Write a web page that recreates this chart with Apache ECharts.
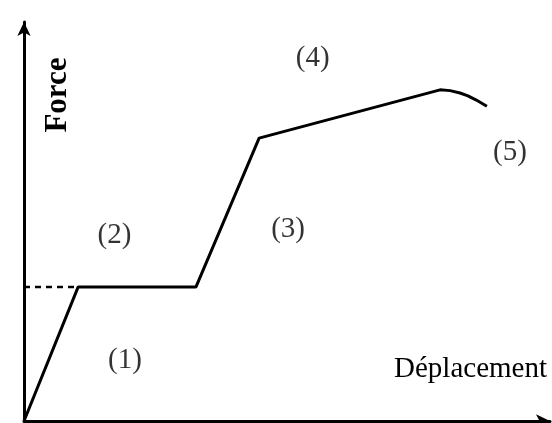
<!DOCTYPE html>
<html>
<head>
<meta charset="utf-8">
<script src="https://cdn.jsdelivr.net/npm/echarts@6/dist/echarts.min.js"></script>
<style>
  html, body { margin: 0; padding: 0; background: #fff; }
  #chart { width: 552px; height: 423px; }
</style>
</head>
<body>
<div id="chart"></div>
<script>
// force-displacement curve, normalised 0..100 on both axes
const curveX = [0, 10.3, 32.7, 44.7, 79.1, 81.0, 82.9, 84.4, 85.9, 88.0]
const curveY = [0, 33.6, 33.6, 70.9, 83.0, 82.8, 82.2, 81.5, 80.5, 78.9]
const dashX = [0, 10.3]
const dashY = [33.6, 33.6]

const zoneNames = ['(1)', '(2)', '(3)', '(4)', '(5)']
const zoneX = [19.2, 17.2, 50.2, 54.9, 92.4]
const zoneY = [15.3, 46.4, 48.1, 91.0, 67.2]

const font = '"Liberation Serif", "DejaVu Serif", serif'

const chart = echarts.init(document.getElementById('chart'))

chart.setOption({
  animation: false,
  grid: { left: 24, right: 2, top: 22, bottom: 2 },
  xAxis: {
    type: 'value',
    min: 0,
    max: 100,
    axisLine: {
      lineStyle: { color: '#000', width: 3 },
      symbol: ['none', 'arrow'],
      symbolSize: [10, 14],
    },
    axisTick: { show: false },
    axisLabel: { show: false },
    splitLine: { show: false },
  },
  yAxis: {
    type: 'value',
    min: 0,
    max: 100,
    axisLine: {
      lineStyle: { color: '#000', width: 3 },
      symbol: ['none', 'arrow'],
      symbolSize: [10, 14],
    },
    axisTick: { show: false },
    axisLabel: { show: false },
    splitLine: { show: false },
  },
  graphic: [
    {
      type: 'text',
      x: 58,
      y: 95,
      rotation: Math.PI / 2,
      style: {
        text: 'Force',
        font: 'bold 31px ' + font,
        fill: '#000',
        align: 'center',
        verticalAlign: 'middle',
      },
    },
    {
      type: 'text',
      x: 547,
      y: 369,
      style: {
        text: 'Déplacement',
        font: '29px ' + font,
        fill: '#000',
        align: 'right',
        verticalAlign: 'middle',
      },
    },
  ],
  series: [
    {
      type: 'line',
      data: curveX.map((x, i) => [x, curveY[i]]),
      showSymbol: false,
      lineStyle: { color: '#000', width: 3 },
    },
    {
      type: 'line',
      data: dashX.map((x, i) => [x, dashY[i]]),
      showSymbol: false,
      lineStyle: { color: '#000', width: 2.5, type: [6, 5] },
    },
    {
      type: 'scatter',
      symbolSize: 0,
      data: zoneNames.map((n, i) => ({ name: n, value: [zoneX[i], zoneY[i]] })),
      label: {
        show: true,
        position: 'inside',
        formatter: p => p.name,
        color: '#000',
        fontFamily: font,
        fontSize: 29,
      },
    },
  ],
})
</script>
</body>
</html>
